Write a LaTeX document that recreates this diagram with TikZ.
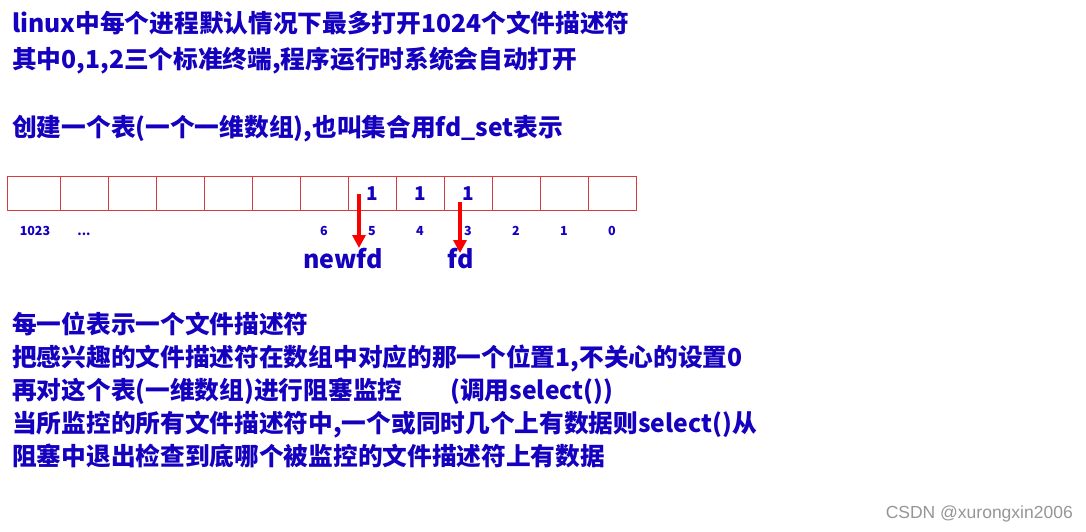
\documentclass[tikz,border=0pt]{standalone}
\usepackage{fontspec}
\setmainfont{Noto Sans CJK SC}
\newfontfamily\wmfont{Liberation Sans}
\usetikzlibrary{arrows.meta}
\definecolor{txtblue}{RGB}{20,0,190}
\definecolor{cellred}{RGB}{215,60,60}
\definecolor{arrred}{RGB}{250,0,0}
\definecolor{wmgray}{RGB}{150,150,150}
\tikzset{
  bigtxt/.style={anchor=base west,inner sep=0pt,text=txtblue,font=\fontsize{24.7}{33}\selectfont\bfseries},
  cellbox/.style={draw=cellred,line width=0.8pt,minimum height=34pt,inner sep=0pt,anchor=north west},
  idx/.style={text=txtblue,font=\fontsize{12.5}{14}\selectfont\bfseries,inner sep=0pt,anchor=base},
  one/.style={text=txtblue,font=\fontsize{19}{20}\selectfont\bfseries,inner sep=0pt,anchor=base},
  lbl/.style={text=txtblue,font=\fontsize{25}{26}\selectfont\bfseries,inner sep=0pt,anchor=base},
  redarrow/.style={draw=arrred,line width=3.6pt,-{Triangle[length=13pt,width=13pt]}}
}
\begin{document}
\begin{tikzpicture}[x=1pt,y=-1pt]
\useasboundingbox[fill=white] (0,0) rectangle (1086,531);
% header text
\node[bigtxt] (t1) at (12,32) {linux中每个进程默认情况下最多打开1024个文件描述符};
\node[bigtxt] (t2) at (12,68) {其中0,1,2三个标准终端,程序运行时系统会自动打开};
\node[bigtxt] (t3) at (12,136) {创建一个表(一个一维数组),也叫集合用fd\_set表示};
% cells
\node[cellbox,minimum width=53pt] (c13) at (7,176) {};
\foreach \i/\x in {12/60,11/108,10/156,9/204,8/252,7/300,6/348,5/396,4/444,3/492,2/540,1/588}{
  \node[cellbox,minimum width=48pt] (c\i) at (\x,176) {};
}
% ones
\node[one] (o5) at (372,200) {1};
\node[one] (o4) at (420,200) {1};
\node[one] (o3) at (468,200) {1};
% indices
\node[idx] (i1023) at (35,235) {1023};
\node[idx] (idots) at (84,235) {...};
\foreach \n/\x in {6/324,5/372,4/420,3/468,2/516,1/564,0/612}{
  \node[idx] (i\n) at (\x,235) {\n};
}
% labels
\node[lbl] (newfd) at (343,268) {newfd};
\node[lbl] (fd) at (461,268) {fd};
\coordinate (a1s) at (359,194);
\coordinate (a1e) at (359,248);
\coordinate (a2s) at (460,202);
\coordinate (a2e) at (460,253);
\draw[redarrow] (a1s) -- (a1e);
\draw[redarrow] (a2s) -- (a2e);
% bottom text
\node[bigtxt] (b1) at (12,333) {每一位表示一个文件描述符};
\node[bigtxt] (b2) at (12,366) {把感兴趣的文件描述符在数组中对应的那一个位置1,不关心的设置0};
\node[bigtxt] (b3) at (12,399) {再对这个表(一维数组)进行阻塞监控};
\node[bigtxt] (b3b) at (450,399) {(调用select())};
\node[bigtxt] (b4) at (12,432) {当所监控的所有文件描述符中,一个或同时几个上有数据则select()从};
\node[bigtxt] (b5) at (12,465) {阻塞中退出检查到底哪个被监控的文件描述符上有数据};
% watermark
\node[anchor=base east,inner sep=0pt,text=wmgray,font=\wmfont\fontsize{17.5}{18}\selectfont] (wm) at (1073,518) {CSDN @xurongxin2006};
\end{tikzpicture}
\end{document}
